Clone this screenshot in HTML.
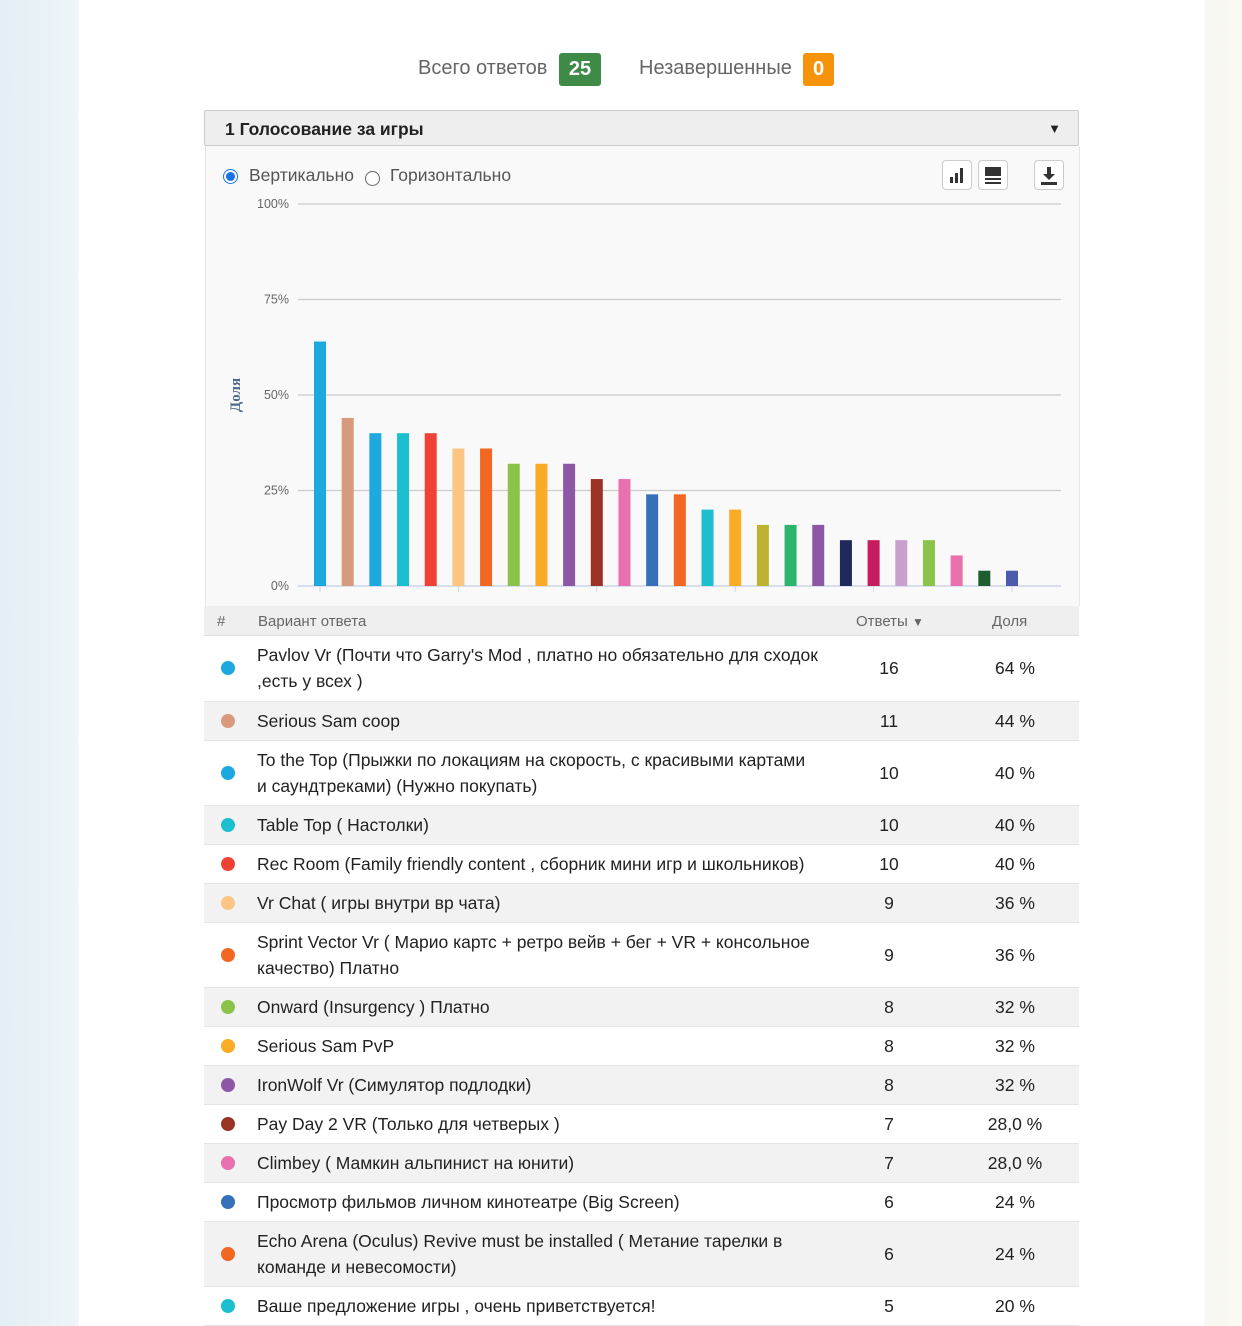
<!DOCTYPE html>
<html><head><meta charset="utf-8">
<style>
body{margin:0;width:1242px;height:1324px;overflow:hidden;font-family:"Liberation Sans",sans-serif;background:linear-gradient(90deg,#e3eef5 0,#eef5f8 78px,#fff 79px,#fff 1204px,#f6f7f3 1205px,#fbfaf2 1242px);position:relative}
.abs{position:absolute}
.badge{display:inline-block;color:#fff;font-weight:bold;font-size:20px;border-radius:3px;text-align:center;line-height:33px;height:33px}
table{border-collapse:collapse;width:875px;font-size:17.5px;color:#222;table-layout:fixed}
td{padding:0;vertical-align:middle;line-height:26px}
tr.g{background:#f2f2f2}
tr{border-bottom:1px solid #e4e4e4}
.dot{width:14px;height:14px;border-radius:50%;margin-left:17px}
.c{text-align:center}
</style></head><body>
<div class="abs" style="left:418px;top:57px;font-size:20px;color:#666">Всего ответов</div>
<div class="abs badge" style="left:559px;top:53px;width:42px;background:#3f8a47">25</div>
<div class="abs" style="left:639px;top:57px;font-size:20px;color:#666">Незавершенные</div>
<div class="abs badge" style="left:803px;top:53px;width:31px;background:#f7930a">0</div>

<div class="abs" style="left:204px;top:110px;width:873px;height:34px;background:#eee;border:1px solid #ccc;border-radius:2px">
<span style="position:absolute;left:20px;top:8px;font-weight:bold;font-size:17.5px;color:#222">1 Голосование за игры</span>
<span style="position:absolute;right:17px;top:10px;font-size:13px;color:#222">▼</span>
</div>
<div class="abs" style="left:205px;top:146px;width:873px;height:460px;background:#f9f9f9;border-left:1px solid #e6e6e6;border-right:1px solid #e6e6e6"></div>
<div class="abs" style="left:223px;top:169px;width:13px;height:13px;border:1px solid #1a73e8;border-radius:50%;background:#fff"><div style="margin:2px;width:9px;height:9px;border-radius:50%;background:#1a73e8"></div></div>
<div class="abs" style="left:249px;top:165px;font-size:17.5px;color:#555">Вертикально</div>
<div class="abs" style="left:365px;top:171px;width:13px;height:13px;border:1px solid #666;border-radius:50%;background:#fff"></div>
<div class="abs" style="left:390px;top:165px;font-size:17.5px;color:#555">Горизонтально</div>
<div class="abs" style="left:942px;top:160px;width:28px;height:28px;border:1px solid #ccc;border-radius:4px;background:#fff"><svg width="28" height="28"><rect x="7" y="16" width="3" height="6" fill="#333"/><rect x="12" y="12" width="3" height="10" fill="#333"/><rect x="17" y="7" width="3" height="15" fill="#333"/></svg></div>
<div class="abs" style="left:978px;top:160px;width:28px;height:28px;border:1px solid #ccc;border-radius:4px;background:#fff"><svg width="28" height="28"><rect x="6" y="6" width="16" height="9" fill="#333"/><rect x="6" y="17" width="16" height="2" fill="#333"/><rect x="6" y="21" width="16" height="2" fill="#333"/></svg></div>
<div class="abs" style="left:1034px;top:160px;width:28px;height:28px;border:1px solid #ccc;border-radius:4px;background:#fff"><svg width="28" height="28"><path d="M12 6h4v7h4l-6 6-6-6h4z" fill="#333"/><rect x="6" y="21" width="16" height="3" fill="#333"/></svg></div>

<svg class="abs" id="chart" style="left:0;top:0" width="1242" height="610"></svg>

<div class="abs" style="left:204px;top:606px;width:875px;height:29px;background:#efefef;border-bottom:1px solid #ddd;font-size:15px;color:#666">
<span style="position:absolute;left:13px;top:7px">#</span>
<span style="position:absolute;left:54px;top:7px">Вариант ответа</span>
<span style="position:absolute;left:652px;top:7px">Ответы <span style="font-size:12px">▼</span></span>
<span style="position:absolute;left:788px;top:7px">Доля</span>
</div>
<table class="abs" id="tbl" style="left:204px;top:636px"></table>

<script>
const labels=["Pavlov Vr (Почти что Garry's Mod , платно но обязательно для сходок<br>,есть у всех )","Serious Sam coop","To the Top (Прыжки по локациям на скорость, с красивыми картами<br>и саундтреками) (Нужно покупать)","Table Top ( Настолки)","Rec Room (Family friendly content , сборник мини игр и школьников)","Vr Chat ( игры внутри вр чата)","Sprint Vector Vr ( Марио картс + ретро вейв + бег + VR + консольное<br>качество) Платно","Onward (Insurgency ) Платно","Serious Sam PvP","IronWolf Vr (Симулятор подлодки)","Pay Day 2 VR (Только для четверых )","Climbey ( Мамкин альпинист на юнити)","Просмотр фильмов личном кинотеатре (Big Screen)","Echo Arena (Oculus) Revive must be installed ( Метание тарелки в<br>команде и невесомости)","Ваше предложение игры , очень приветствуется!"];
const counts=[16,11,10,10,10,9,9,8,8,8,7,7,6,6,5,5,4,4,4,3,3,3,3,2,1,1];
const shareLabels=["64 %","44 %","40 %","40 %","40 %","36 %","36 %","32 %","32 %","32 %","28,0 %","28,0 %","24 %","24 %","20 %"];
const colors=["#1ea8e0","#d79a7c","#1ea8e0","#1bbfcf","#ef4136","#fdc584","#f26722","#8bc34a","#fbab26","#8e57a5","#9a3323","#e870ad","#3670b8","#f26722","#1bbfcf","#fbab26","#bfb230","#2db56b","#8e57a5","#1f2a5a","#c51c5e","#c9a0cb","#8bc34a","#e870ad","#1e5e2e","#4b5aab"];
const yTicks=[0,25,50,75,100];
const total=25;
const NS="http://www.w3.org/2000/svg";
const svg=document.getElementById('chart');
const x0=298,x1=1061,yB=586,yT=204;
const step=27.68,first=320;
const y=v=>yB-(v/100)*(yB-yT);
const xc=i=>first+i*step;
function mk(t,a){const e=document.createElementNS(NS,t);for(const k in a)e.setAttribute(k,a[k]);svg.appendChild(e);return e;}
yTicks.forEach(t=>{
 const l=mk('line',{x1:x0,x2:x1,y1:y(t),y2:y(t),stroke:t?'#ccc':'#ccd6eb','stroke-width':t?1.2:1.5});
 
 
 const tx=mk('text',{x:289,y:y(t)+4,'text-anchor':'end','font-size':12.5,fill:'#666','font-family':'Liberation Sans'});
 tx.textContent=t+'%';
 
 
});
for(let i=0;i<counts.length;i+=5){
 const tk=mk('line',{x1:xc(i),x2:xc(i),y1:yB,y2:yB+6,stroke:'#ccd6eb'});
 
 
}
counts.forEach((c,i)=>{
 const v=c/total*100;
 const r=mk('rect',{x:xc(i)-6,y:y(v),width:12,height:yB-y(v),fill:colors[i]});
 
 
});
const yt=mk('text',{x:0,y:0,transform:'translate(240,395) rotate(-90)','text-anchor':'middle','font-size':15,'font-weight':'bold',fill:'#4d6a8a','font-family':'Liberation Serif'});
yt.textContent='Доля';



const tbl=document.getElementById('tbl');
labels.forEach((l,i)=>{
 const tr=document.createElement('tr');
 
 
 if(i%2)tr.className='g';
 const h=l.includes('<br>')?65:39;
 tr.style.height=h+'px';
 tr.innerHTML='<td style="width:53px"><div class="dot" style="background:'+colors[i]+'"></div></td><td style="width:600px">'+l+'</td><td class="c" style="width:64px">'+counts[i]+'</td><td style="width:36px"></td><td class="c" style="width:116px">'+shareLabels[i]+'</td><td></td>';
 tbl.appendChild(tr);
});
</script>
</body></html>
